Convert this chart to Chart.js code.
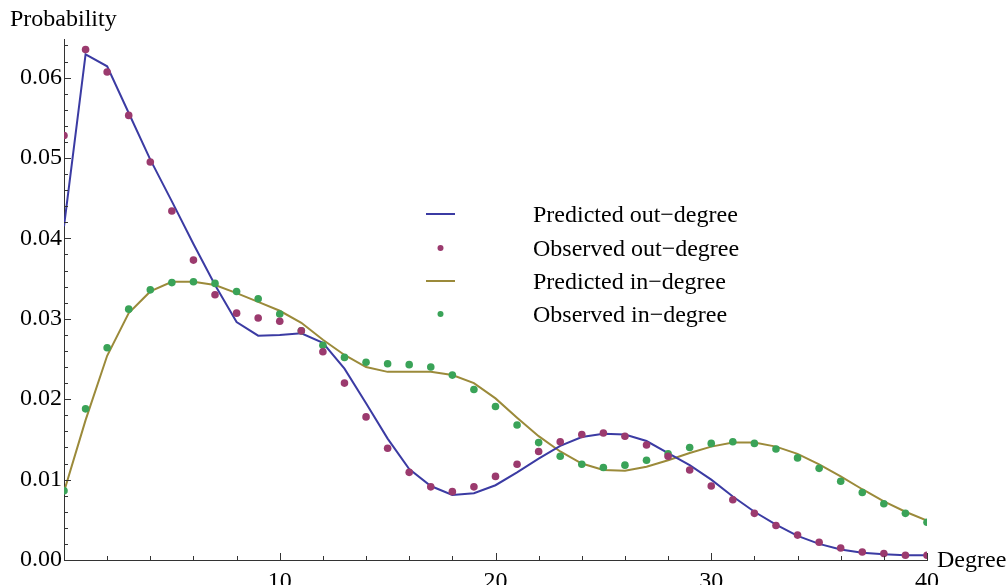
<!DOCTYPE html>
<html>
<head>
<meta charset="utf-8">
<script src="https://cdn.jsdelivr.net/npm/chart.js@4.4.0/dist/chart.umd.min.js"></script>
<style>
  html, body { margin: 0; padding: 0; background: #fff; overflow: hidden; }
</style>
</head>
<body>
<canvas id="degreeChart" width="1008" height="585"></canvas>
<script>
// Values
const degrees = [0, 1, 2, 3, 4, 5, 6, 7, 8, 9, 10, 11, 12, 13, 14, 15, 16, 17, 18, 19, 20,
  21, 22, 23, 24, 25, 26, 27, 28, 29, 30, 31, 32, 33, 34, 35, 36, 37, 38, 39, 40]

const predictedOut = [0.0415, 0.0629, 0.0614, 0.0556, 0.0498, 0.0446, 0.0393, 0.0342, 0.0296, 0.0279,
  0.0280, 0.0282, 0.0270, 0.0238, 0.0195, 0.0151, 0.0113, 0.0092, 0.0081, 0.0083, 0.0093,
  0.0109, 0.0126, 0.0142, 0.0153, 0.0157, 0.0156, 0.0148, 0.0133, 0.0118, 0.0100,
  0.0079, 0.0060, 0.0044, 0.0030, 0.0020, 0.0013, 0.0009, 0.0007, 0.0006, 0.0006]

const observedOut = [0.0528, 0.0635, 0.0607, 0.0553, 0.0495, 0.0434, 0.0373, 0.0330, 0.0307, 0.0301,
  0.0297, 0.0285, 0.0259, 0.0220, 0.0178, 0.0139, 0.0109, 0.0091, 0.0085, 0.0091, 0.0104,
  0.0119, 0.0135, 0.0147, 0.0156, 0.0158, 0.0154, 0.0143, 0.0129, 0.0112, 0.0092,
  0.0075, 0.0058, 0.0043, 0.0031, 0.0022, 0.0015, 0.0010, 0.0008, 0.0006, 0.0006]

const predictedIn = [0.0085, 0.0174, 0.0254, 0.0307, 0.0334, 0.0346, 0.0346, 0.0342, 0.0332, 0.0321,
  0.0310, 0.0295, 0.0274, 0.0255, 0.0240, 0.0234, 0.0234, 0.0234, 0.0230, 0.0220, 0.0201,
  0.0177, 0.0154, 0.0135, 0.0120, 0.0112, 0.0111, 0.0116, 0.0124, 0.0133, 0.0141,
  0.0146, 0.0146, 0.0141, 0.0132, 0.0119, 0.0104, 0.0088, 0.0073, 0.0060, 0.0049]

const observedIn = [0.0086, 0.0188, 0.0264, 0.0312, 0.0336, 0.0345, 0.0346, 0.0344, 0.0334, 0.0325,
  0.0306, 0.0285, 0.0267, 0.0252, 0.0246, 0.0244, 0.0243, 0.0240, 0.0230, 0.0212, 0.0191,
  0.0168, 0.0146, 0.0129, 0.0119, 0.0115, 0.0118, 0.0124, 0.0132, 0.0140, 0.0145,
  0.0147, 0.0145, 0.0138, 0.0127, 0.0114, 0.0098, 0.0084, 0.0070, 0.0058, 0.0047]

const seriesNames = ['Predicted out\u2212degree', 'Observed out\u2212degree', 'Predicted in\u2212degree', 'Observed in\u2212degree']

const xTicks = [0, 10, 20, 30, 40]
const xTickLabels = ['', '10', '20', '30', '40']
const yTicks = [0, 0.01, 0.02, 0.03, 0.04, 0.05, 0.06]
const yTickLabels = ['0.00', '0.01', '0.02', '0.03', '0.04', '0.05', '0.06']

const serif = '"Liberation Serif", "Times New Roman", serif'
const axisColor = '#333'

function toPoints(values) {
  return degrees.map((d, i) => ({ x: d, y: values[i] }))
}

// Mathematica style ticks pointing into the plot
const inwardTicks = {
  id: 'inwardTicks',
  afterDatasetsDraw(chart) {
    const { ctx, chartArea: a, scales: { x, y } } = chart
    ctx.save()
    ctx.strokeStyle = axisColor
    ctx.lineWidth = 1
    ctx.beginPath()
    for (let i = 0; i <= 20; i++) {
      const px = Math.round(x.getPixelForValue(i * 2)) + 0.5
      const len = i % 5 === 0 ? 7 : 4
      ctx.moveTo(px, a.bottom)
      ctx.lineTo(px, a.bottom - len)
    }
    for (let i = 0; i <= 32; i++) {
      const py = Math.round(y.getPixelForValue(i * 0.002)) + 0.5
      const len = i % 5 === 0 ? 7 : 4
      ctx.moveTo(a.left, py)
      ctx.lineTo(a.left + len, py)
    }
    ctx.stroke()
    ctx.restore()
  }
}

// Axis names and the legend block in the middle of the plot
const annotations = {
  id: 'annotations',
  afterDraw(chart) {
    const { ctx, chartArea: a } = chart
    ctx.save()
    ctx.fillStyle = '#000'
    ctx.font = '24px ' + serif
    ctx.textBaseline = 'alphabetic'
    ctx.textAlign = 'left'
    ctx.fillText('Probability', 10, 26)
    ctx.fillText('Degree', a.right + 10, 567)

    const rows = [214, 248, 281, 314]
    chart.data.datasets.forEach((ds, i) => {
      const cy = rows[i]
      if (ds.showLine) {
        ctx.strokeStyle = ds.borderColor
        ctx.lineWidth = 2
        ctx.beginPath()
        ctx.moveTo(426, cy)
        ctx.lineTo(455, cy)
        ctx.stroke()
      } else {
        ctx.fillStyle = ds.backgroundColor
        ctx.beginPath()
        ctx.arc(440.5, cy, 3, 0, Math.PI * 2)
        ctx.fill()
      }
      ctx.fillStyle = '#000'
      ctx.fillText(ds.label, 533, cy + 8)
    })
    ctx.restore()
  }
}

const ctx = document.getElementById('degreeChart').getContext('2d')

new Chart(ctx, {
  type: 'scatter',
  data: {
    datasets: [
      {
        label: seriesNames[0],
        data: toPoints(predictedOut),
        showLine: true,
        borderColor: '#3b3ba3',
        backgroundColor: '#3b3ba3',
        borderWidth: 2,
        pointRadius: 0,
        tension: 0,
        clip: 0,
        order: 2,
      },
      {
        label: seriesNames[1],
        data: toPoints(observedOut),
        showLine: false,
        backgroundColor: '#9b3a6e',
        borderColor: '#9b3a6e',
        pointRadius: 3.8,
        pointBorderWidth: 0,
        clip: 0,
        order: 1,
      },
      {
        label: seriesNames[2],
        data: toPoints(predictedIn),
        showLine: true,
        borderColor: '#9b8a3a',
        backgroundColor: '#9b8a3a',
        borderWidth: 2,
        pointRadius: 0,
        tension: 0,
        clip: 0,
        order: 2,
      },
      {
        label: seriesNames[3],
        data: toPoints(observedIn),
        showLine: false,
        backgroundColor: '#3aa358',
        borderColor: '#3aa358',
        pointRadius: 3.8,
        pointBorderWidth: 0,
        clip: 0,
        order: 1,
      },
    ],
  },
  options: {
    responsive: false,
    animation: false,
    events: [],
    layout: {
      padding: { top: 39, right: 81, bottom: 0, left: 0 },
    },
    scales: {
      x: {
        type: 'linear',
        min: 0,
        max: 40,
        afterBuildTicks: (scale) => {
          scale.ticks = xTicks.map((v) => ({ value: v }))
        },
        afterFit: (scale) => {
          scale.height = 25
        },
        ticks: {
          autoSkip: false,
          maxRotation: 0,
          padding: 7,
          color: '#000',
          font: { family: serif, size: 24 },
          callback: (value, index) => xTickLabels[index],
        },
        grid: { display: false, drawTicks: false },
        border: { display: true, color: axisColor, width: 1 },
      },
      y: {
        type: 'linear',
        min: 0,
        max: 0.0648,
        afterBuildTicks: (scale) => {
          scale.ticks = yTicks.map((v) => ({ value: v }))
        },
        afterFit: (scale) => {
          scale.width = 64
        },
        ticks: {
          autoSkip: false,
          padding: 2,
          color: '#000',
          font: { family: serif, size: 24 },
          callback: (value, index) => yTickLabels[index],
        },
        grid: { display: false, drawTicks: false },
        border: { display: true, color: axisColor, width: 1 },
      },
    },
    plugins: {
      legend: { display: false },
      tooltip: { enabled: false },
    },
  },
  plugins: [inwardTicks, annotations],
})
</script>
</body>
</html>
